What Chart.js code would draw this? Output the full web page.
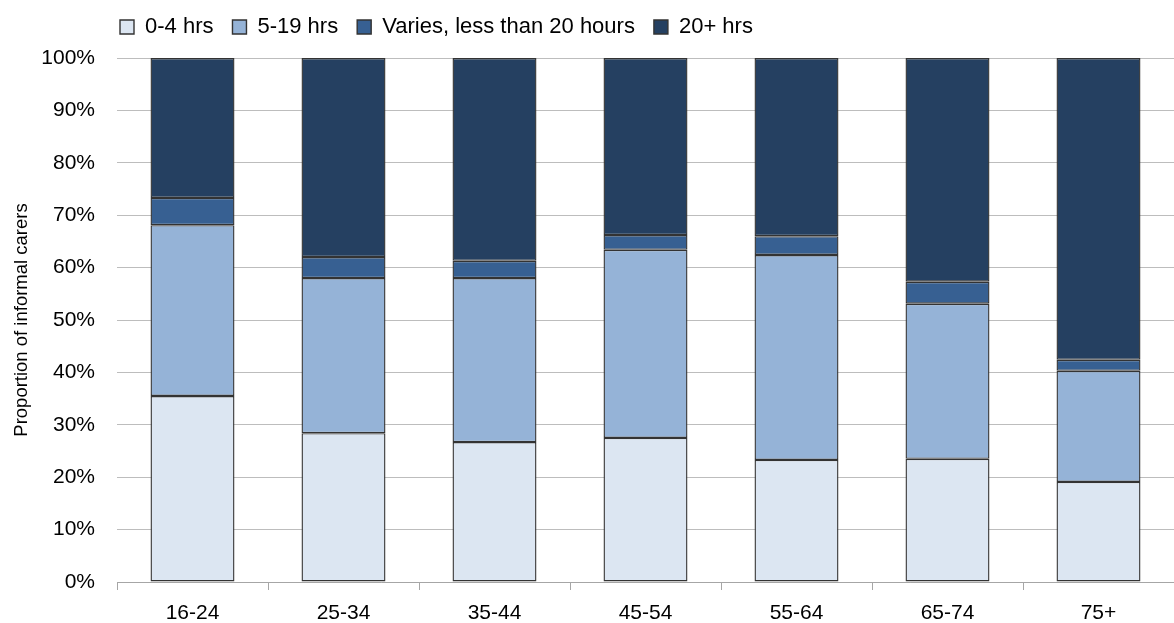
<!DOCTYPE html>
<html>
<head>
<meta charset="utf-8">
<script src="https://cdn.jsdelivr.net/npm/chart.js@4"></script>
<style>
  html, body { margin: 0; padding: 0; background: #fff; }
  #wrap { width: 1174px; height: 623px; }
</style>
</head>
<body>
<div id="wrap"><canvas id="chart" width="1174" height="623"></canvas></div>
<script>
// Age groups and share of carers by hours of care (%)
const ageGroups = ['16-24', '25-34', '35-44', '45-54', '55-64', '65-74', '75+'];
const hrs0to4 = [35.5, 28.4, 26.7, 27.5, 23.3, 23.5, 19.1];
const hrs5to19 = [32.6, 29.6, 31.3, 35.9, 39.1, 29.6, 21.2];
const variesUnder20 = [5.2, 4.0, 3.3, 2.8, 3.6, 4.2, 2.1];
const hrs20plus = [26.7, 38.0, 38.7, 33.8, 34.0, 42.7, 57.6];

const seriesLabels = ['0-4 hrs', '5-19 hrs', 'Varies, less than 20 hours', '20+ hrs'];
const seriesColors = ['#DCE6F2', '#95B3D7', '#376092', '#254061'];
const FONT = "'Liberation Sans', Arial, sans-serif";

// put the legend at the top-left, lined up with the plot area
const legendShift = {
  id: 'legendShift',
  beforeDraw(chart) {
    if (!chart.legend) return;
    chart.legend.left = 101;
    chart.legend.top = -3;
  }
};

const ctx = document.getElementById('chart').getContext('2d');
new Chart(ctx, {
  type: 'bar',
  data: {
    labels: ageGroups,
    datasets: [hrs0to4, hrs5to19, variesUnder20, hrs20plus].map((d, i) => ({
      label: seriesLabels[i],
      data: d,
      backgroundColor: seriesColors[i],
      borderColor: '#333333',
      borderWidth: 1.4,
      borderSkipped: false,
      categoryPercentage: 1,
      barPercentage: 0.556
    }))
  },
  options: {
    responsive: false,
    animation: false,
    layout: { padding: { top: 7, right: 0, bottom: 0, left: 0 } },
    plugins: {
      tooltip: { enabled: false },
      legend: {
        position: 'top',
        align: 'start',
        labels: {
          boxWidth: 14,
          boxHeight: 14,
          padding: 19,
          color: '#000',
          font: { family: FONT, size: 22 }
        }
      }
    },
    scales: {
      x: {
        stacked: true,
        afterFit: s => { s.height = 41; },
        grid: { drawOnChartArea: false, drawTicks: true, tickLength: 8, color: '#A6A6A6', offset: true },
        border: { display: true, color: '#A6A6A6' },
        ticks: { color: '#000', padding: 11, font: { family: FONT, size: 21 } }
      },
      y: {
        stacked: true,
        min: 0,
        max: 100,
        afterFit: s => { s.width = 117; },
        ticks: {
          stepSize: 10,
          padding: 22,
          color: '#000',
          font: { family: FONT, size: 21 },
          callback: v => v + '%'
        },
        grid: { color: '#BDBDBD', drawTicks: false, lineWidth: 1 },
        border: { display: false },
        title: {
          display: true,
          text: 'Proportion of informal carers',
          color: '#000',
          padding: 11,
          font: { family: FONT, size: 18.5 }
        }
      }
    }
  },
  plugins: [legendShift]
});
</script>
</body>
</html>
